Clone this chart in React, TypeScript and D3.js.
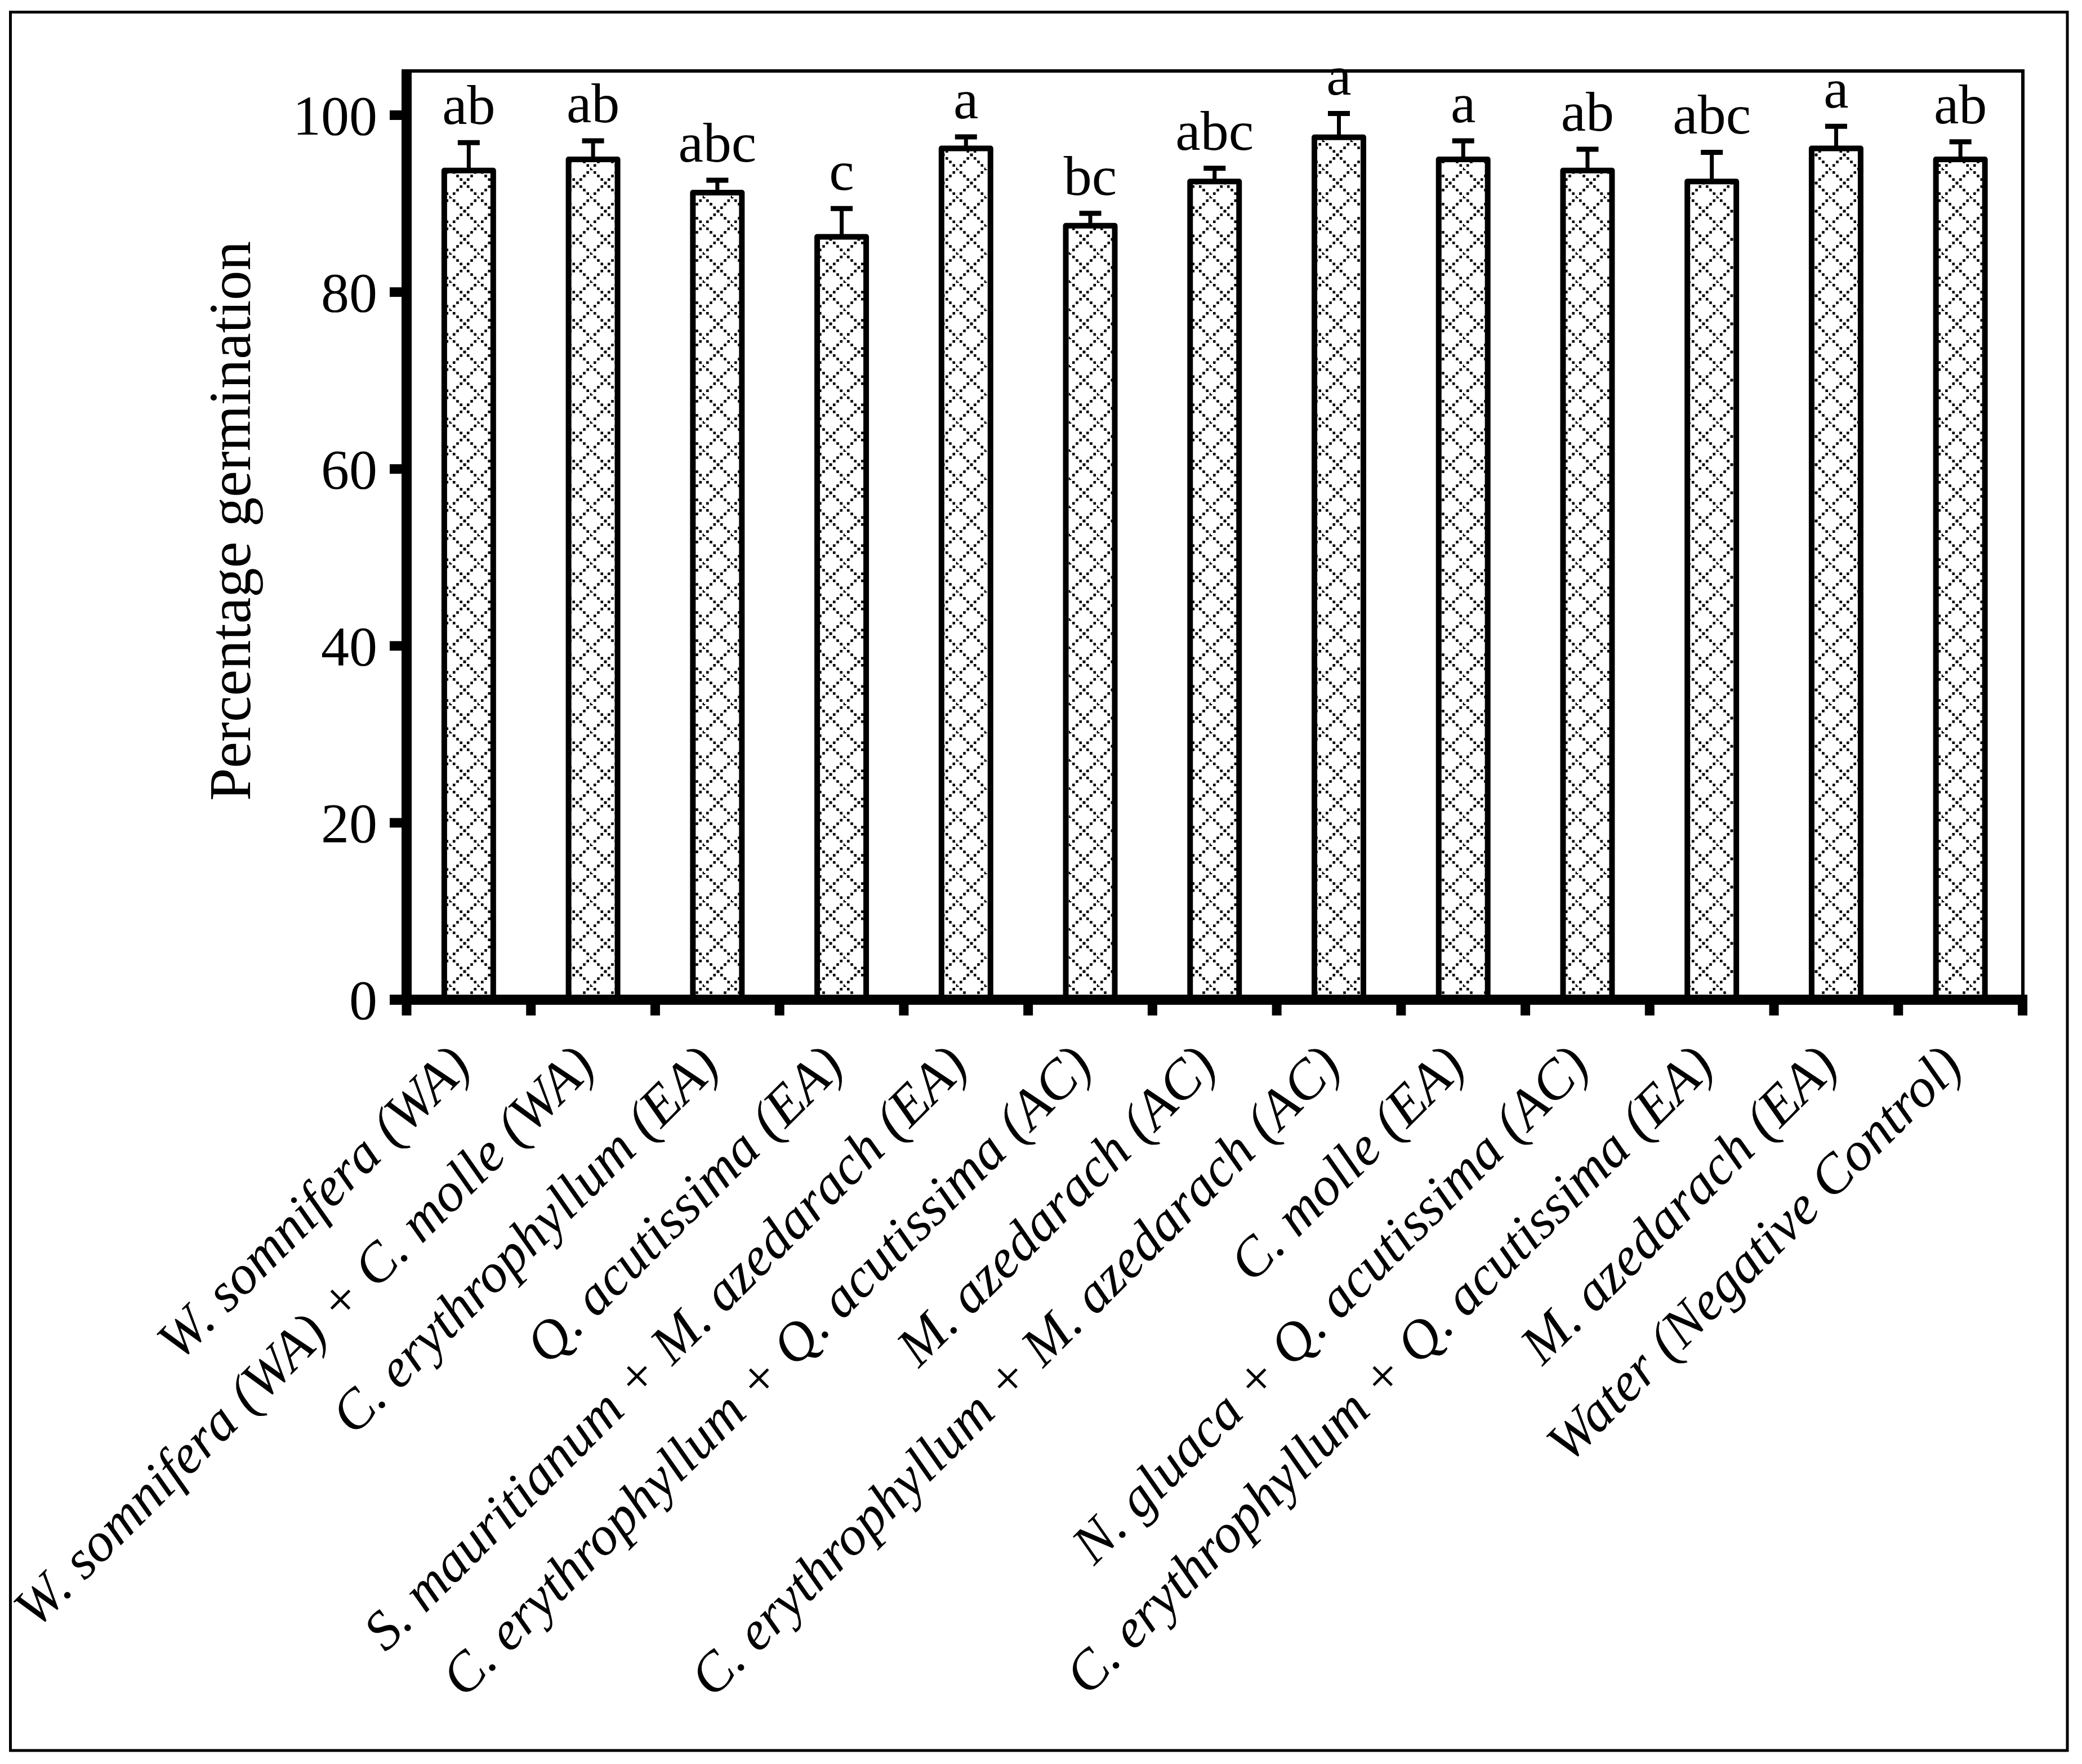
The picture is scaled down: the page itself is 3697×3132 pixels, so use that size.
import React from "react";
import * as d3 from "d3";

const categories = [
  "W. somnifera (WA)",
  "W. somnifera (WA) + C. molle (WA)",
  "C. erythrophyllum (EA)",
  "Q. acutissima (EA)",
  "S. mauritianum + M. azedarach (EA)",
  "C. erythrophyllum + Q. acutissima (AC)",
  "M. azedarach (AC)",
  "C. erythrophyllum + M. azedarach (AC)",
  "C. molle (EA)",
  "N. gluaca + Q. acutissima (AC)",
  "C. erythrophyllum + Q. acutissima (EA)",
  "M. azedarach (EA)",
  "Water (Negative Control)",
];
const means = [93.75, 95, 91.25, 86.25, 96.25, 87.5, 92.5, 97.5, 95, 93.75, 92.5, 96.25, 95];
const errors = [3.15, 2.1, 1.4, 3.2, 1.3, 1.4, 1.5, 2.7, 2.1, 2.4, 3.3, 2.5, 2.0];
const letters = ["ab", "ab", "abc", "c", "a", "bc", "abc", "a", "a", "ab", "abc", "a", "ab"];
const yTicks = [0, 20, 40, 60, 80, 100];
const yTitle = "Percentage germination";

const W = 3697;
const H = 3132;
const FONT = "'Liberation Serif', 'Times New Roman', serif";

export default function App() {
  const left = 722;
  const right = 3591.5;
  const top = 126;
  const bottom = 1775;

  const x = d3.scaleBand<string>().domain(categories).range([left, right]).padding(0);
  const y = d3.scaleLinear().domain([0, 105]).range([bottom, top]);
  const barW = x.bandwidth() * 0.394;

  const dots: { x: number; y: number }[] = [];
  for (let k = 0; k < 8; k++) {
    dots.push({ x: k * 6.25, y: k * 6.25 });
    dots.push({ x: 50 - k * 6.25, y: k * 6.25 });
  }
  const ds = 4.6;

  return (
    <svg
      width={W}
      height={H}
      viewBox={`0 0 ${W} ${H}`}
      style={{ position: "absolute", left: 0, top: 0, background: "#fff" }}
      fontFamily={FONT}
    >
      <defs>
        <pattern id="lattice" width={50} height={50} patternUnits="userSpaceOnUse" x={0} y={0}>
          <rect x={0} y={0} width={50} height={50} fill="#fff" />
          {dots.map((d, i) => (
            <rect key={i} x={d.x - ds / 2} y={d.y - ds / 2} width={ds} height={ds} fill="#000" />
          ))}
          <rect x={50 - ds / 2} y={50 - ds / 2} width={ds} height={ds} fill="#000" />
        </pattern>
      </defs>
      <rect x={0} y={0} width={W} height={H} fill="#fff" />
      {/* outer border */}
      <rect x={18.5} y={21.5} width={3671 - 18.5} height={3108 - 21.5} fill="none" stroke="#000" strokeWidth={5} />

      {/* plot frame (top & right thin) */}
      <line x1={left} x2={3592} y1={top} y2={top} stroke="#000" strokeWidth={6} />
      <line x1={3592} x2={3592} y1={top - 3} y2={bottom} stroke="#000" strokeWidth={6} />

      {/* bars */}
      {categories.map((c, i) => {
        const cx = (x(c) as number) + x.bandwidth() / 2;
        const yv = y(means[i]);
        const ye = y(means[i] + errors[i]);
        return (
          <g key={c}>
            <line x1={cx} x2={cx} y1={yv} y2={ye} stroke="#000" strokeWidth={7} />
            <line x1={cx - 19.5} x2={cx + 19.5} y1={ye} y2={ye} stroke="#000" strokeWidth={9} />
            <rect
              x={cx - barW / 2}
              y={yv}
              width={barW}
              height={bottom - yv}
              fill="url(#lattice)"
              stroke="#000"
              strokeWidth={10}
              strokeLinejoin="round"
            />
            <text x={cx} y={ye - 33} textAnchor="middle" fontSize={100} fill="#000">
              {letters[i]}
            </text>
          </g>
        );
      })}

      {/* y axis */}
      <line x1={left} x2={left} y1={top - 3} y2={bottom} stroke="#000" strokeWidth={18} />
      {yTicks.map((t) => (
        <g key={t}>
          <line x1={692} x2={left} y1={y(t)} y2={y(t)} stroke="#000" strokeWidth={17} />
          <text x={670} y={y(t) + 34} textAnchor="end" fontSize={100} fill="#000">
            {t}
          </text>
        </g>
      ))}

      {/* x axis */}
      <line x1={692} x2={3600} y1={bottom} y2={bottom} stroke="#000" strokeWidth={18} />
      {d3.range(categories.length + 1).map((i) => {
        const tx = left + i * x.step();
        return <line key={i} x1={tx} x2={tx} y1={bottom} y2={1803} stroke="#000" strokeWidth={17} />;
      })}

      {/* x labels */}
      {categories.map((c) => {
        const cx = (x(c) as number) + x.bandwidth() / 2;
        return (
          <text
            key={c}
            transform={`translate(${cx + 8},${1897}) rotate(-45)`}
            textAnchor="end"
            fontSize={98}
            fontStyle="italic"
            fill="#000"
          >
            {c}
          </text>
        );
      })}

      {/* y title */}
      <text transform={`translate(444,925) rotate(-90)`} textAnchor="middle" fontSize={105} fill="#000">
        {yTitle}
      </text>
    </svg>
  );
}
